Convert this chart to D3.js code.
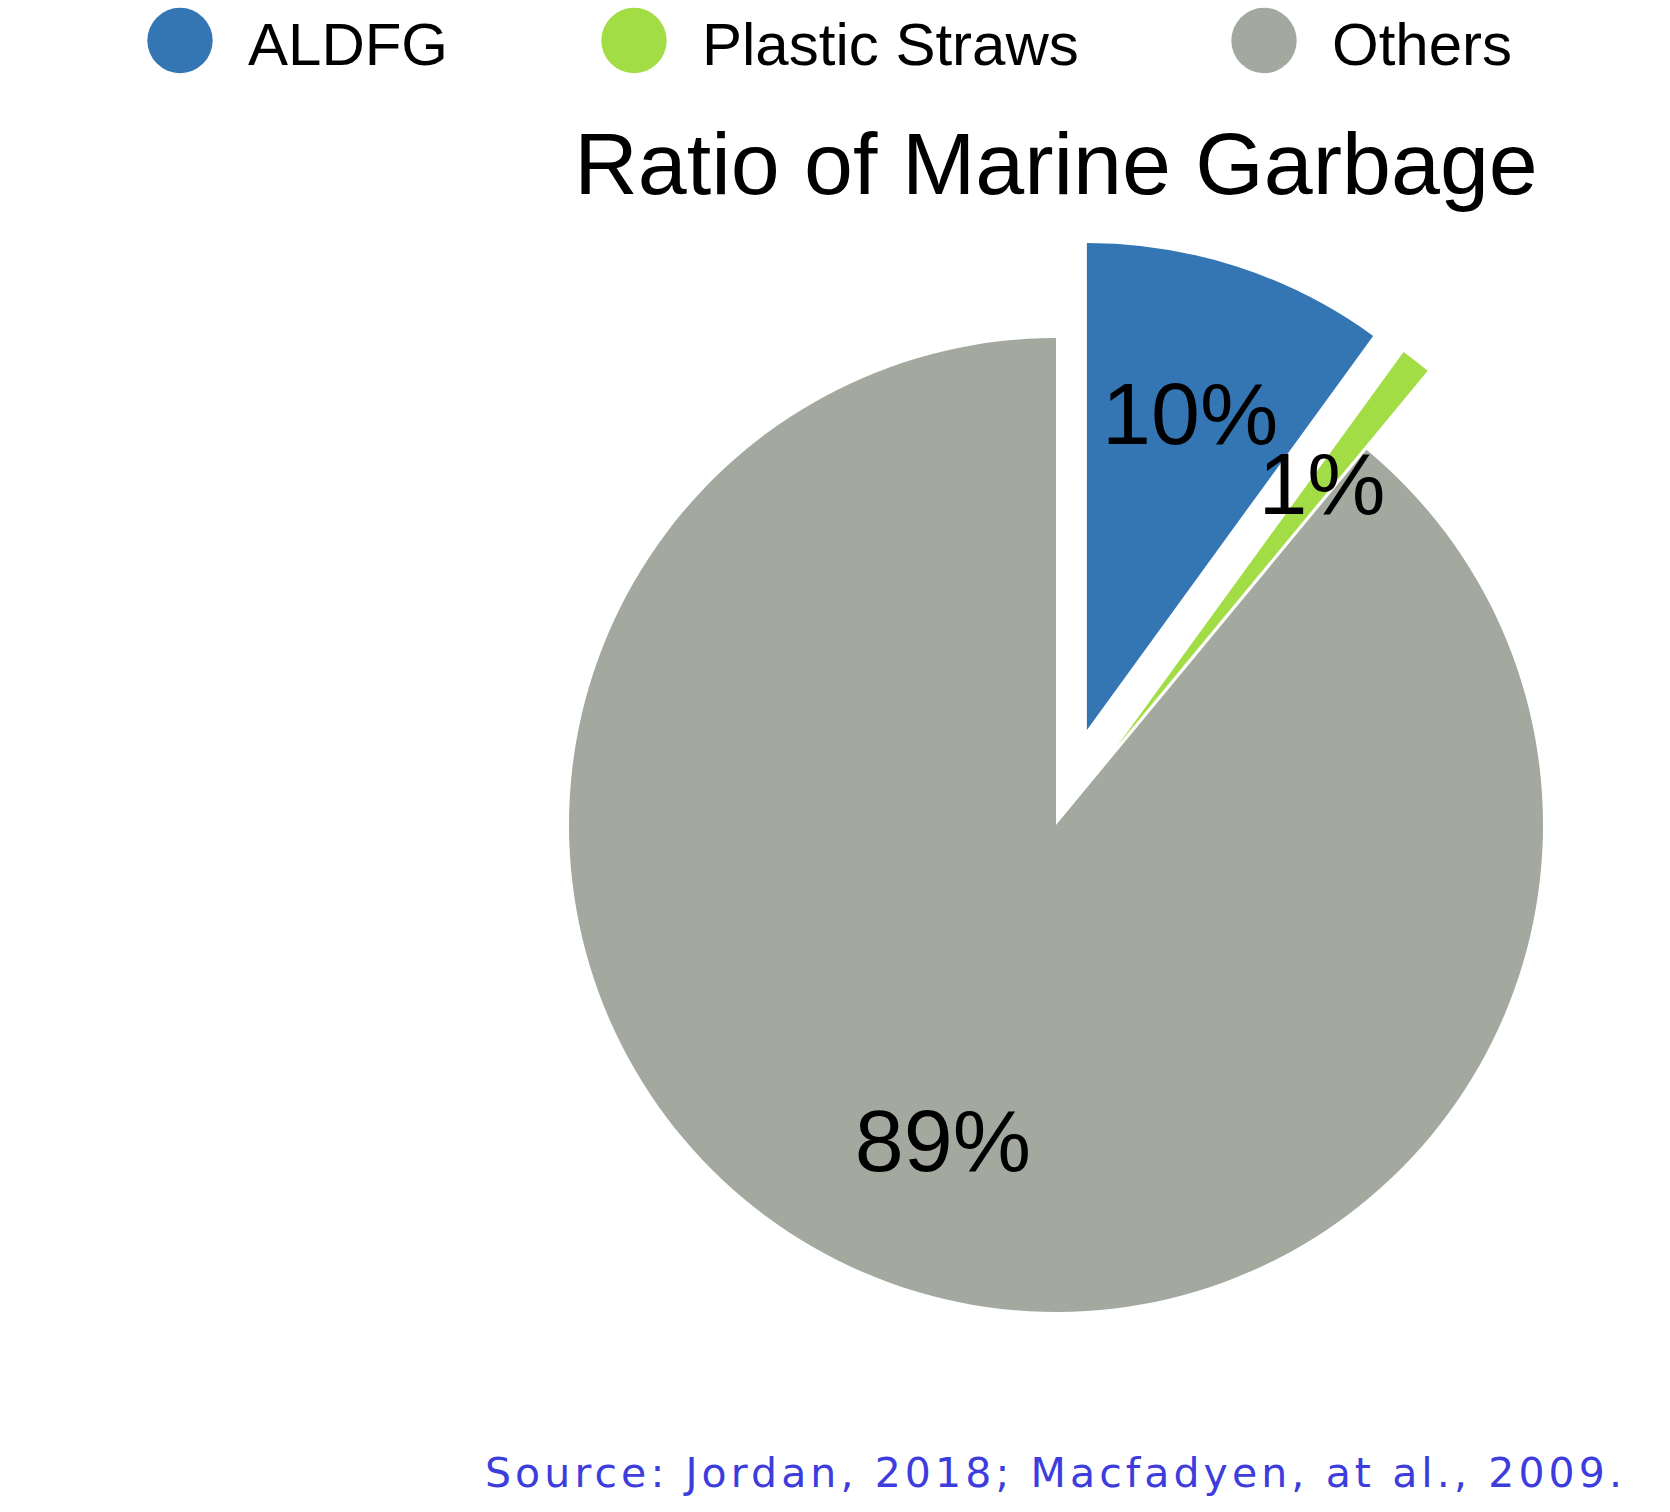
<!DOCTYPE html>
<html>
<head>
<meta charset="utf-8">
<script src="https://cdn.jsdelivr.net/npm/d3@7"></script>
<style>
  html, body { margin: 0; padding: 0; background: #fff; }
  svg { display: block; }
</style>
</head>
<body>
<svg id="chart" width="1670" height="1512"></svg>
<script>
const categories = ["ALDFG", "Plastic Straws", "Others"];
const values = [10, 1, 89];
const labels = ["10%", "1%", "89%"];
const colors = ["#3476b4", "#a3dd45", "#a3a99e"];
const explode = [100, 100, 0];
const title = "Ratio of Marine Garbage";
const source = "Source: Jordan, 2018; Macfadyen, at al., 2009.";

const svg = d3.select("#chart");
const font = "'Liberation Sans', Arial, sans-serif";
const cx = 1056, cy = 825, R = 487;

// Legend
const legendPos = [180, 634, 1264];
const legend = svg.append("g");
categories.forEach((c, i) => {
  const r = 32.7;
  const ccx = legendPos[i];
  legend.append("circle").attr("cx", ccx).attr("cy", 40.5).attr("r", r).attr("fill", colors[i]);
  legend.append("text").attr("x", ccx + 68).attr("y", 65)
    .attr("font-family", font).attr("font-size", 60).attr("fill", "#000").text(c);
});

// Title
svg.append("text").attr("x", cx).attr("y", 194).attr("text-anchor", "middle")
  .attr("font-family", font).attr("font-size", 88).attr("fill", "#000").text(title);

// Pie
const pie = d3.pie().sort(null).value(d => d)(values);
const arc = d3.arc().innerRadius(0).outerRadius(R);
const labelArc = d3.arc().innerRadius(334).outerRadius(334);
const g = svg.append("g").attr("transform", `translate(${cx},${cy})`);
const shift = (d, i) => {
  const a = (d.startAngle + d.endAngle) / 2;
  return `translate(${Math.sin(a) * explode[i]},${-Math.cos(a) * explode[i]})`;
};
g.append("g").selectAll("path").data(pie).join("path")
  .attr("transform", shift).attr("d", arc).attr("fill", (d, i) => colors[i]);
g.append("g").selectAll("g").data(pie).join("g")
  .attr("transform", shift)
  .append("text")
  .attr("transform", d => `translate(${labelArc.centroid(d)})`)
  .attr("text-anchor", "middle").attr("dy", "0.36em")
  .attr("font-family", font).attr("font-size", 88).attr("fill", "#000")
  .text((d, i) => labels[i]);

// Source
svg.append("text").attr("x", 485).attr("y", 1487)
  .attr("font-family", "'DejaVu Sans', sans-serif").attr("font-size", 41)
  .attr("textLength", 1137).attr("lengthAdjust", "spacing")
  .attr("fill", "#3d3ddd").text(source);
</script>
</body>
</html>
